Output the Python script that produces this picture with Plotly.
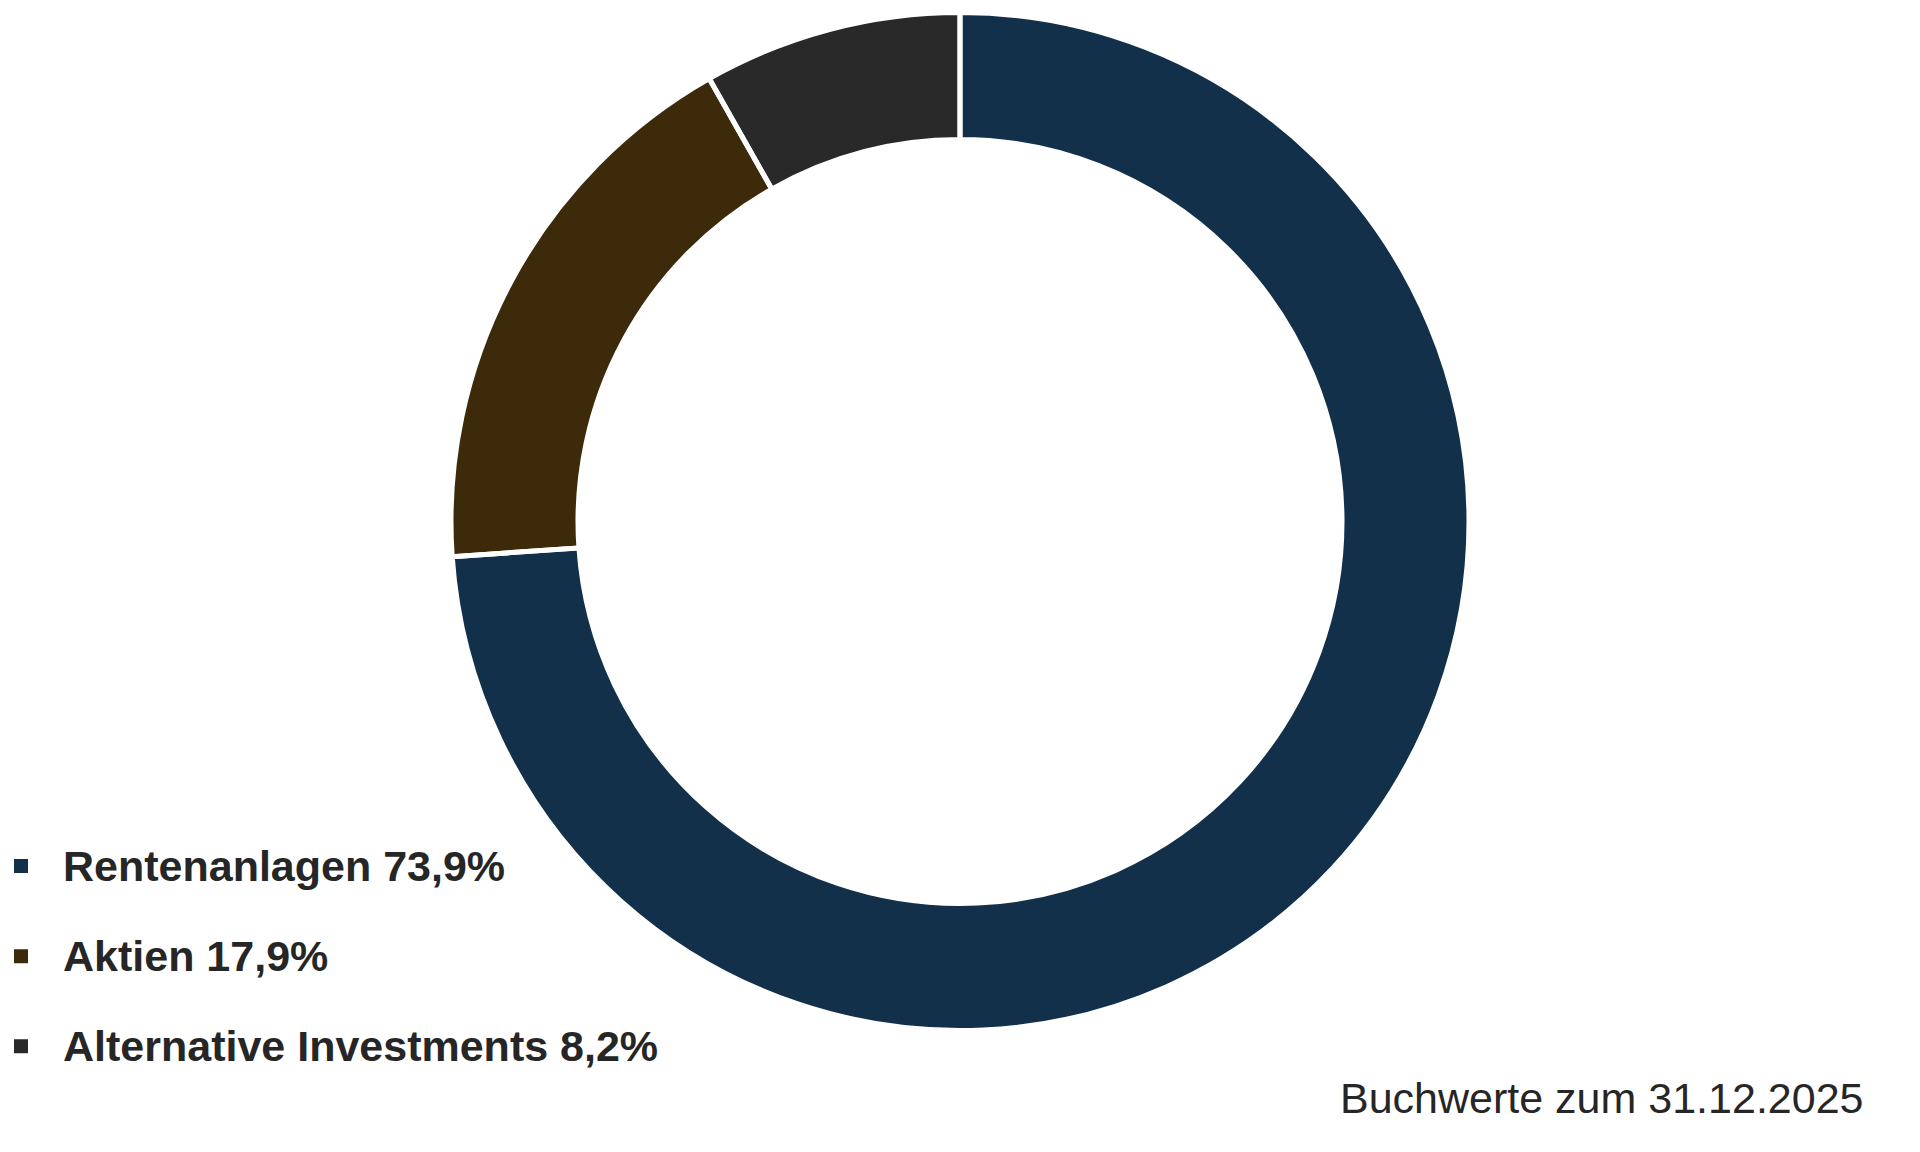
import plotly.graph_objects as go

# ---- data ----
categories = ["Rentenanlagen", "Aktien", "Alternative Investments"]
shares = [73.9, 17.9, 8.2]
colors = ["#12304A", "#3D2A0B", "#292929"]
footnote = "Buchwerte zum 31.12.2025"

W, H = 1920, 1152
OFF = 8  # page body margin compensation
TEXT_COLOR = "#262626"
FONT = "Liberation Sans, Arial, sans-serif"


def fmt_pct(v):
    return f"{v:.1f}".replace(".", ",") + "%"


legend_labels = [
    f"<span style='font-size:43px;baseline-shift:11px'>{c} {fmt_pct(v)}</span>"
    for c, v in zip(categories, shares)
]

# pie geometry (pixels)
cx, cy = 960 - OFF, 521.5 - OFF
r_out = 509
r_in = 382
domain = dict(
    x=[(cx - r_out) / W, (cx + r_out) / W],
    y=[(H - cy - r_out) / H, (H - cy + r_out) / H],
)

fig = go.Figure()
# coloured slices (legend source)
fig.add_trace(
    go.Pie(
        labels=legend_labels,
        values=shares,
        sort=False,
        direction="clockwise",
        rotation=0,
        hole=r_in / r_out,
        textinfo="none",
        hoverinfo="none",
        marker=dict(colors=colors, line=dict(color=colors, width=2)),
        domain=domain,
    )
)
# white separators between slices
fig.add_trace(
    go.Pie(
        labels=legend_labels,
        values=shares,
        sort=False,
        direction="clockwise",
        rotation=0,
        hole=r_in / r_out,
        textinfo="none",
        hoverinfo="none",
        showlegend=False,
        marker=dict(colors=["rgba(0,0,0,0)"] * len(shares),
                    line=dict(color="#FFFFFF", width=5)),
        domain=domain,
    )
)

fig.update_layout(
    width=W,
    height=H,
    margin=dict(l=0, r=0, t=0, b=0, autoexpand=False),
    paper_bgcolor="#FFFFFF",
    plot_bgcolor="#FFFFFF",
    showlegend=True,
    legend=dict(
        x=(-21 - OFF) / W,
        xanchor="left",
        y=(H - 816 + OFF) / H,
        yanchor="top",
        itemwidth=74,
        font=dict(family=FONT, size=67, color=TEXT_COLOR, weight="bold"),
        bgcolor="rgba(0,0,0,0)",
        borderwidth=0,
        itemclick=False,
        itemdoubleclick=False,
    ),
    annotations=[
        dict(
            text=footnote,
            xref="paper",
            yref="paper",
            x=(1866 - OFF) / W,
            y=(H - 1098 + OFF) / H,
            xanchor="right",
            yanchor="middle",
            showarrow=False,
            font=dict(family=FONT, size=43, color=TEXT_COLOR),
        )
    ],
)

fig.write_html("out.html")
